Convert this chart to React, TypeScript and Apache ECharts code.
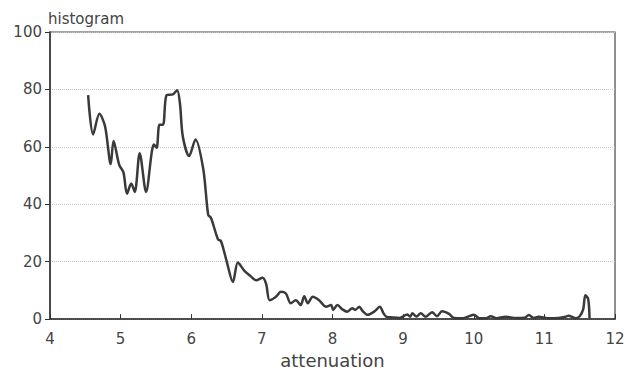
import React, { useEffect, useRef } from "react";
import * as echarts from "echarts";

const attenuation = [
  4.54, 4.61, 4.70, 4.78, 4.86, 4.90, 4.98, 5.04, 5.09, 5.15, 5.20, 5.27, 5.36, 5.44, 5.47, 5.51,
  5.55, 5.60, 5.65, 5.74, 5.80, 5.84, 5.88, 5.97, 6.06, 6.17, 6.24, 6.28, 6.38, 6.42, 6.50, 6.59,
  6.66, 6.75, 6.83, 6.92, 7.01, 7.06, 7.11, 7.20, 7.27, 7.34, 7.41, 7.48, 7.55, 7.60, 7.65, 7.72,
  7.81, 7.91, 7.98, 8.01, 8.07, 8.14, 8.21, 8.28, 8.32, 8.38, 8.42, 8.50, 8.59, 8.67, 8.72, 8.76,
  8.85, 8.95, 9.06, 9.10, 9.13, 9.19, 9.25, 9.32, 9.41, 9.48, 9.55, 9.65, 9.72, 9.85, 10.00, 10.08,
  10.17, 10.24, 10.32, 10.45, 10.60, 10.72, 10.78, 10.85, 10.92, 11.05, 11.20, 11.30, 11.34, 11.44,
  11.50, 11.55, 11.58, 11.62, 11.64,
];
const histogram = [
  78.0, 64.3, 71.5, 67.1, 54.0, 62.0, 53.7, 51.1, 43.7, 47.2, 44.3, 57.8, 44.3, 58.0, 60.8, 59.7,
  67.7, 67.7, 78.0, 78.3, 79.7, 75.1, 63.7, 56.8, 62.6, 52.3, 36.3, 35.2, 27.7, 27.2, 20.3, 12.9,
  19.7, 16.9, 15.2, 13.5, 14.4, 12.3, 6.6, 7.8, 9.5, 8.9, 5.5, 6.6, 4.9, 8.0, 5.5, 7.8,
  6.6, 4.3, 4.9, 3.2, 4.9, 3.4, 2.6, 3.8, 3.2, 4.3, 3.0, 1.5, 2.6, 4.3, 2.1, 0.9,
  0.6, 0.4, 1.6, 0.8, 2.0, 0.9, 2.0, 0.8, 2.4, 1.0, 2.7, 1.8, 0.4, 0.3, 1.5, 0.3,
  0.3, 1.0, 0.3, 0.8, 0.4, 0.5, 1.4, 0.4, 0.8, 0.3, 0.4, 0.8, 1.2, 0.3,
  1.0, 3.5, 8.3, 7.0, 0.2,
];
const xTicks = [4, 5, 6, 7, 8, 9, 10, 11, 12];
const yTicks = [0, 20, 40, 60, 80, 100];

export default function App() {
  const ref = useRef<HTMLDivElement>(null);
  useEffect(() => {
    if (!ref.current) return;
    const chart = echarts.init(ref.current, null, { renderer: "svg" });
    const font = "DejaVu Sans";
    chart.setOption({
      animation: false,
      backgroundColor: "#ffffff",
      grid: {
        left: 50,
        right: 13,
        top: 32,
        bottom: 48,
        show: true,
        borderColor: "#444",
        borderWidth: 1.2,
        backgroundColor: "transparent",
      },
      xAxis: {
        type: "value",
        min: xTicks[0],
        max: xTicks[xTicks.length - 1],
        interval: 1,
        name: "attenuation",
        nameLocation: "middle",
        nameGap: 31,
        nameTextStyle: { fontFamily: font, fontSize: 18, color: "#444" },
        axisLine: { show: true, lineStyle: { color: "#333", width: 1.5 } },
        axisTick: { show: true, inside: true, length: 5, lineStyle: { color: "#333" } },
        axisLabel: { fontFamily: font, fontSize: 15, color: "#444", margin: 12 },
        splitLine: { show: false },
      },
      yAxis: {
        type: "value",
        min: yTicks[0],
        max: yTicks[yTicks.length - 1],
        interval: 20,
        name: "histogram",
        nameLocation: "end",
        nameGap: 6,
        nameTextStyle: { fontFamily: font, fontSize: 15, color: "#444", align: "left", padding: [0, 0, 0, -2] },
        axisLine: { show: true, lineStyle: { color: "#333", width: 1.5 } },
        axisTick: { show: true, inside: false, length: 5, lineStyle: { color: "#333" } },
        axisLabel: { fontFamily: font, fontSize: 15, color: "#444", margin: 8 },
        splitLine: { show: true, lineStyle: { color: "#c4c4c4", type: "dotted", width: 1 } },
      },
      series: [
        {
          type: "line",
          data: attenuation.map((x, i) => [x, histogram[i]]),
          showSymbol: false,
          smooth: 0.3,
          lineStyle: { color: "#3a3a3a", width: 2.5 },
        },
      ],
    });
    return () => chart.dispose();
  }, []);
  return (
    <div
      ref={ref}
      style={{ position: "absolute", left: 0, top: 0, width: 628, height: 374 }}
    />
  );
}
